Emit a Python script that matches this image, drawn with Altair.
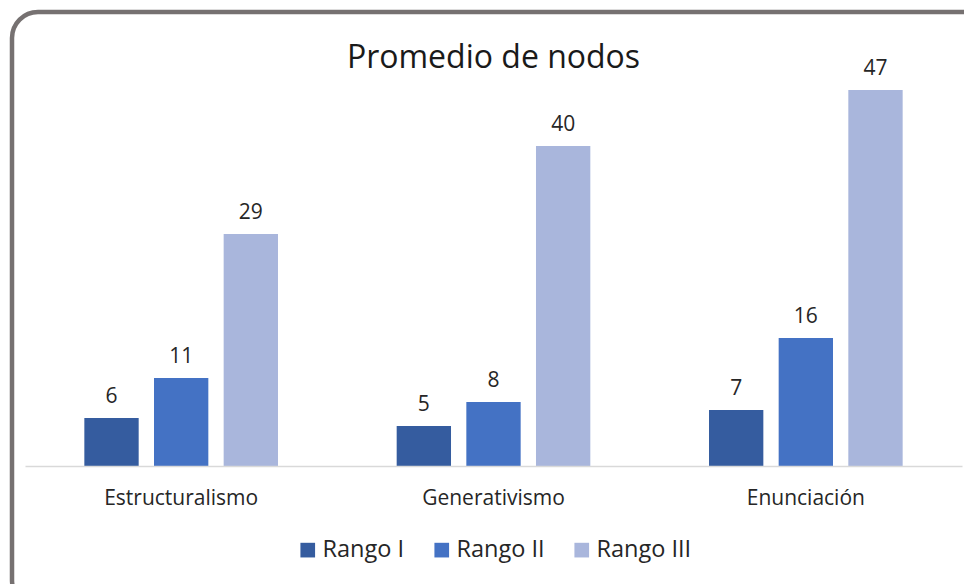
import altair as alt
import pandas as pd

categories = ["Estructuralismo", "Generativismo", "Enunciación"]
series = ["Rango I", "Rango II", "Rango III"]
rango_i = [6, 5, 7]
rango_ii = [11, 8, 16]
rango_iii = [29, 40, 47]
colors = ["#355C9F", "#4472C4", "#A9B6DC"]

rows = []
for i, c in enumerate(categories):
    for s, vals in zip(series, [rango_i, rango_ii, rango_iii]):
        rows.append({"cat": c, "serie": s, "valor": vals[i]})
df = pd.DataFrame(rows)

FONT = "Open Sans"
W, H = 937, 400

x = alt.X("cat:N", sort=categories,
          scale=alt.Scale(paddingInner=0.38, paddingOuter=0.19),
          axis=alt.Axis(title=None, labelAngle=0, ticks=False, domainColor="#D9D9D9",
                        domainWidth=1.5, labelFontSize=21, labelColor="#262626",
                        labelFont=FONT, labelPadding=21, zindex=2))
xo = alt.XOffset("serie:N", sort=series, scale=alt.Scale(paddingInner=0.22, paddingOuter=0))
y = alt.Y("valor:Q", scale=alt.Scale(domain=[0, 50], nice=False), axis=None)

base = alt.Chart(df)

frame = alt.Chart(pd.DataFrame({"a": [0]})).mark_rect(
    fill="white", stroke="#767171", strokeWidth=4.5, cornerRadius=26
).encode(
    x=alt.value(-13), x2=alt.value(W + 40),
    y=alt.value(-54), y2=alt.value(H + 140)
)

bars = base.mark_bar().encode(
    x=x, xOffset=xo, y=y,
    color=alt.Color("serie:N", sort=series,
                    scale=alt.Scale(domain=series, range=colors),
                    legend=alt.Legend(title=None, orient="none", direction="horizontal",
                                      legendX=271, legendY=472,
                                      symbolType="square", symbolSize=215,
                                      symbolStrokeWidth=0, symbolOpacity=1,
                                      labelFontSize=23.5, labelFont=FONT, labelColor="#262626",
                                      labelOffset=3, columnPadding=25))
)

labels = base.mark_text(baseline="bottom", dy=-11, fontSize=21, font=FONT, color="#262626").encode(
    x=x, xOffset=xo, y=y, text=alt.Text("valor:Q")
)

chart = alt.layer(frame, bars, labels).properties(
    width=W, height=H,
    title=alt.TitleParams("Promedio de nodos", fontSize=32, font=FONT, fontWeight="normal",
                          color="#1A1A1A", anchor="middle", frame="group",
                          baseline="alphabetic", offset=-90),
    autosize=alt.AutoSizeParams(type="none"),
    padding={"left": 25, "top": 66, "right": 2, "bottom": 118},
).configure_view(stroke=None).configure(background="white")

chart.save("out.html", embed_options={"renderer": "svg", "actions": False})
